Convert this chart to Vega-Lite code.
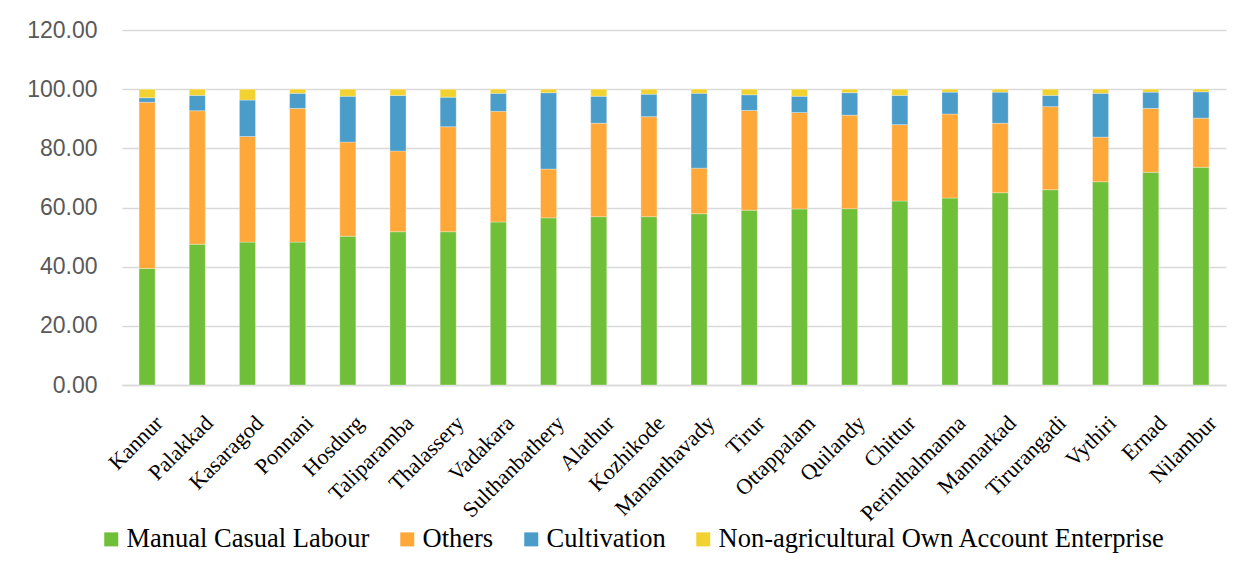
{
  "$schema": "https://vega.github.io/schema/vega-lite/v6.json",
  "autosize": {"type": "none"},
  "padding": {"left": 122, "top": 30, "right": 12, "bottom": 186},
  "width": 1104,
  "height": 355,
  "background": "#ffffff",
  "data": {"values": [
    {"d": "Kannur", "Manual Casual Labour": 39.4, "Others": 56.2, "Cultivation": 1.5, "Non-agricultural Own Account Enterprise": 2.9},
    {"d": "Palakkad", "Manual Casual Labour": 47.6, "Others": 45.1, "Cultivation": 5.2, "Non-agricultural Own Account Enterprise": 2.1},
    {"d": "Kasaragod", "Manual Casual Labour": 48.3, "Others": 35.7, "Cultivation": 12.3, "Non-agricultural Own Account Enterprise": 3.7},
    {"d": "Ponnani", "Manual Casual Labour": 48.3, "Others": 45.2, "Cultivation": 5.1, "Non-agricultural Own Account Enterprise": 1.4},
    {"d": "Hosdurg", "Manual Casual Labour": 50.3, "Others": 31.8, "Cultivation": 15.5, "Non-agricultural Own Account Enterprise": 2.4},
    {"d": "Taliparamba", "Manual Casual Labour": 51.8, "Others": 27.3, "Cultivation": 18.8, "Non-agricultural Own Account Enterprise": 2.1},
    {"d": "Thalassery", "Manual Casual Labour": 51.8, "Others": 35.5, "Cultivation": 10.0, "Non-agricultural Own Account Enterprise": 2.7},
    {"d": "Vadakara", "Manual Casual Labour": 55.1, "Others": 37.4, "Cultivation": 6.1, "Non-agricultural Own Account Enterprise": 1.4},
    {"d": "Sulthanbathery", "Manual Casual Labour": 56.5, "Others": 16.5, "Cultivation": 25.8, "Non-agricultural Own Account Enterprise": 1.2},
    {"d": "Alathur", "Manual Casual Labour": 56.9, "Others": 31.6, "Cultivation": 9.1, "Non-agricultural Own Account Enterprise": 2.4},
    {"d": "Kozhikode", "Manual Casual Labour": 56.9, "Others": 33.8, "Cultivation": 7.6, "Non-agricultural Own Account Enterprise": 1.7},
    {"d": "Mananthavady", "Manual Casual Labour": 57.9, "Others": 15.4, "Cultivation": 25.3, "Non-agricultural Own Account Enterprise": 1.4},
    {"d": "Tirur", "Manual Casual Labour": 59.1, "Others": 33.7, "Cultivation": 5.3, "Non-agricultural Own Account Enterprise": 1.9},
    {"d": "Ottappalam", "Manual Casual Labour": 59.5, "Others": 32.6, "Cultivation": 5.5, "Non-agricultural Own Account Enterprise": 2.4},
    {"d": "Quilandy", "Manual Casual Labour": 59.6, "Others": 31.6, "Cultivation": 7.6, "Non-agricultural Own Account Enterprise": 1.2},
    {"d": "Chittur", "Manual Casual Labour": 62.2, "Others": 25.8, "Cultivation": 9.9, "Non-agricultural Own Account Enterprise": 2.1},
    {"d": "Perinthalmanna", "Manual Casual Labour": 63.2, "Others": 28.4, "Cultivation": 7.4, "Non-agricultural Own Account Enterprise": 1.0},
    {"d": "Mannarkad", "Manual Casual Labour": 65.0, "Others": 23.5, "Cultivation": 10.5, "Non-agricultural Own Account Enterprise": 1.0},
    {"d": "Tirurangadi", "Manual Casual Labour": 66.0, "Others": 28.1, "Cultivation": 3.8, "Non-agricultural Own Account Enterprise": 2.1},
    {"d": "Vythiri", "Manual Casual Labour": 68.7, "Others": 15.1, "Cultivation": 14.8, "Non-agricultural Own Account Enterprise": 1.4},
    {"d": "Ernad", "Manual Casual Labour": 71.9, "Others": 21.6, "Cultivation": 5.5, "Non-agricultural Own Account Enterprise": 1.0},
    {"d": "Nilambur", "Manual Casual Labour": 73.6, "Others": 16.6, "Cultivation": 8.9, "Non-agricultural Own Account Enterprise": 0.9}
  ]},
  "transform": [
    {"fold": ["Manual Casual Labour", "Others", "Cultivation", "Non-agricultural Own Account Enterprise"], "as": ["category", "value"]},
    {"window": [{"op": "row_number", "as": "rank"}], "groupby": ["d"]}
  ],
  "mark": {"type": "bar", "stroke": "#ffffff", "strokeWidth": 0.5, "strokeOpacity": 0.6},
  "encoding": {
    "x": {
      "field": "d", "type": "nominal", "sort": null, "title": null,
      "scale": {"paddingInner": 0.68, "paddingOuter": 0.34},
      "axis": {
        "labelAngle": -45, "labelFont": "Liberation Serif", "labelFontSize": 22, "labelColor": "#000000",
        "ticks": false, "labelPadding": 27, "labelOffset": 5, "domainColor": "#d9d9d9", "domainWidth": 1.5, "grid": false
      }
    },
    "y": {
      "field": "value", "type": "quantitative", "stack": "zero", "title": null,
      "scale": {"domain": [0, 120], "nice": false},
      "axis": {
        "values": [0, 20, 40, 60, 80, 100, 120], "format": ".2f", "labelFont": "Liberation Sans", "labelFontSize": 23,
        "labelColor": "#595959", "ticks": false, "domain": false, "labelPadding": 25,
        "gridColor": "#d9d9d9", "gridWidth": 1.5
      }
    },
    "order": {"field": "rank", "type": "quantitative"},
    "color": {
      "field": "category", "type": "nominal",
      "scale": {
        "domain": ["Manual Casual Labour", "Others", "Cultivation", "Non-agricultural Own Account Enterprise"],
        "range": ["#70bf38", "#ffa83a", "#4a9cc9", "#f2d230"]
      },
      "legend": {
        "title": null, "orient": "none", "direction": "horizontal", "legendX": -24, "legendY": 496,
        "labelFont": "Liberation Serif", "labelFontSize": 26.5, "labelColor": "#000000", "labelLimit": 1000,
        "symbolType": "square", "symbolSize": 196, "symbolStrokeWidth": 0, "labelOffset": 2, "columnPadding": 24
      }
    }
  },
  "config": {"view": {"stroke": null}}
}
